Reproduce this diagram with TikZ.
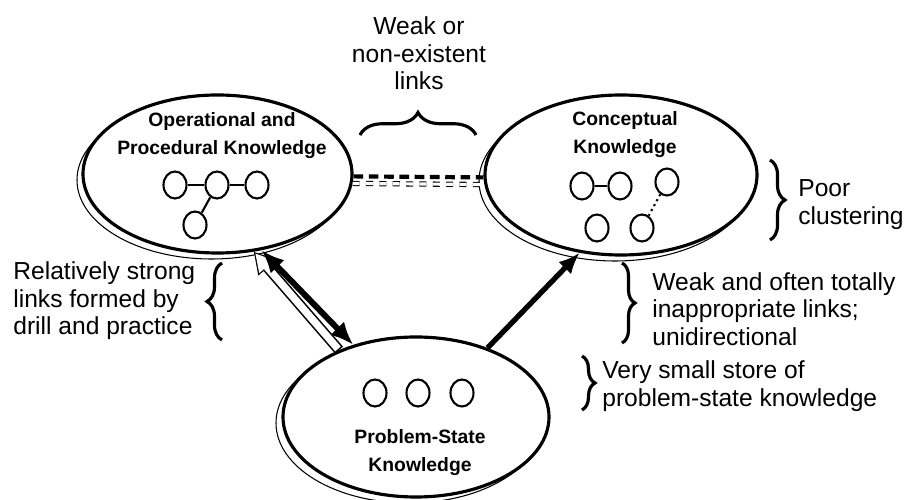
\documentclass[tikz,border=0pt]{standalone}
\usepackage{fontspec}
\setmainfont{Liberation Sans}
\usetikzlibrary{shapes.geometric,arrows.meta,decorations.pathreplacing}
\tikzset{
  store/.style={ellipse, draw, line width=1.8pt, fill=white, inner sep=0pt},
  ghost/.style={ellipse, draw, line width=0.6pt, inner sep=0pt},
  item/.style={ellipse, draw, line width=1.2pt, minimum width=0.46cm, minimum height=0.54cm, inner sep=0pt},
  storename/.style={font=\bfseries\fontsize{11}{15.9}\selectfont, align=center, inner sep=0pt},
  note/.style={font=\fontsize{14}{15.6}\selectfont, align=left, inner sep=0pt},
  curly/.style={decorate, decoration={brace, amplitude=#1}, line width=1.8pt},
}
\begin{document}
\begin{tikzpicture}
        \useasboundingbox (0,0) rectangle (18.12,-10);

        % shadows behind the stores
        \node[ghost, minimum width=5.38cm, minimum height=3.16cm] (1s) at (4.23,-3.60) {};
        \node[ghost, minimum width=5.44cm, minimum height=3.2cm] (2s) at (12.30,-3.62) {};
        \node[ghost, minimum width=5.32cm, minimum height=3.2cm] (3s) at (8.18,-8.46) {};

        \node[store, minimum width=5.38cm, minimum height=3.16cm] (1) at (4.35,-3.48) {};
        \node[store, minimum width=5.44cm, minimum height=3.2cm] (2) at (12.42,-3.50) {};
        \node[store, minimum width=5.32cm, minimum height=3.2cm] (3) at (8.32,-8.34) {};

        \node[storename] (t1) at (4.44,-2.72) {Operational and\\Procedural Knowledge};
        \node[storename] (t2) at (12.50,-2.70) {Conceptual\\Knowledge};
        \node[storename] (t3) at (8.40,-9.06) {Problem-State\\Knowledge};

        % items inside the stores
        \node[item] (1a) at (3.50,-3.70) {};
        \node[item] (1b) at (4.34,-3.70) {};
        \node[item] (1c) at (5.14,-3.70) {};
        \node[item] (1d) at (3.90,-4.50) {};
        \draw[line width=1.2pt] (1a) -- (1b) -- (1c);
        \draw[line width=1.2pt] (1b) -- (1d);

        \node[item] (2a) at (11.64,-3.72) {};
        \node[item] (2b) at (12.40,-3.72) {};
        \node[item] (2c) at (13.34,-3.64) {};
        \node[item] (2d) at (11.94,-4.56) {};
        \node[item] (2e) at (12.84,-4.56) {};
        \draw[line width=1.2pt] (2a) -- (2b);
        \draw[line width=1.2pt, dotted] (2c) -- (2e);

        \node[item] (3a) at (7.50,-7.86) {};
        \node[item] (3b) at (8.36,-7.86) {};
        \node[item] (3c) at (9.24,-7.86) {};

        % links between the stores
        \draw[line width=2.4pt, dash pattern=on 5.5pt off 3.2pt] (1.-1) -- (2.181);
        \draw[line width=0.6pt, double, double distance=1.8pt, dash pattern=on 4pt off 3.6pt] (1.-4) -- (2.184);

        \draw[line width=6pt, -{Triangle[length=12pt,width=13pt]}] (3.139) -- (1.-65);
        \draw[white, line width=4.2pt, -{Triangle[length=10pt,width=10.5pt]}, shorten >=1.3pt, shorten <=0.9pt] (3.139) -- (1.-65);

        \draw[line width=3.4pt, {Latex[length=13pt,width=11pt]}-{Latex[length=13pt,width=11pt]}] (1.-60) -- (3.131);
        \draw[line width=3pt, -{Latex[length=12pt,width=10pt]}] (3.44) -- (2.-118);

        % notes
        \node[note, align=center] (n1) at (8.38,-1.07) {Weak or\\non-existent\\links};
        \node[note, anchor=west] (n2) at (0.26,-6.02) {Relatively strong\\links formed by\\drill and practice};
        \node[note, anchor=west] (n3) at (15.96,-4.09) {Poor\\clustering};
        \node[note, anchor=west] (n4) at (13.04,-6.18) {Weak and often totally\\inappropriate links;\\unidirectional};
        \node[note, anchor=west] (n5) at (12.04,-7.72) {Very small store of\\problem-state knowledge};

        \coordinate (b1) at (7.20,-2.70);
        \coordinate (b2) at (9.52,-2.70);
        \coordinate (b3) at (4.44,-6.80);
        \coordinate (b4) at (4.44,-5.26);
        \coordinate (b5) at (15.40,-3.20);
        \coordinate (b6) at (15.40,-4.80);
        \coordinate (b7) at (12.44,-5.26);
        \coordinate (b8) at (12.44,-6.86);
        \coordinate (b9) at (11.64,-7.12);
        \coordinate (b10) at (11.64,-8.20);

        \draw[curly=0.45cm] (b1) -- (b2);
        \draw[curly=0.3cm] (b3) -- (b4);
        \draw[curly=0.3cm] (b5) -- (b6);
        \draw[curly=0.26cm] (b7) -- (b8);
        \draw[curly=0.26cm] (b9) -- (b10);
      \end{tikzpicture}
\end{document}
